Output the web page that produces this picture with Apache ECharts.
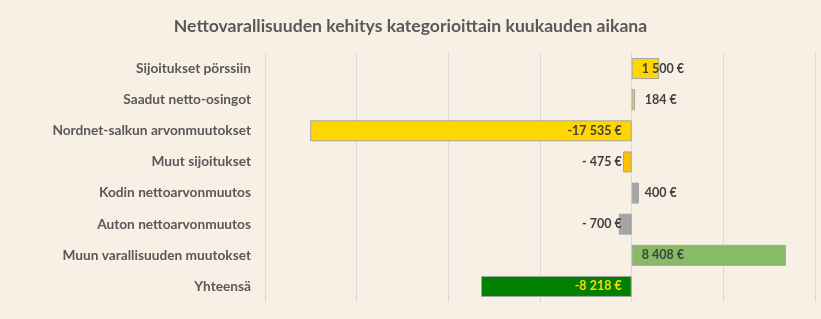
<!DOCTYPE html>
<html><head><meta charset="utf-8">
<script src="https://cdn.jsdelivr.net/npm/echarts@6/dist/echarts.min.js"></script>
<style>html,body{margin:0;padding:0;background:#F8F0E5;}#c{width:821px;height:319px;}</style>
</head><body><div id="c"></div>
<script>
const categories = ["Sijoitukset pörssiin","Saadut netto-osingot","Nordnet-salkun arvonmuutokset","Muut sijoitukset","Kodin nettoarvonmuutos","Auton nettoarvonmuutos","Muun varallisuuden muutokset","Yhteensä"];
const values = [1500, 184, -17535, -475, 400, -700, 8408, -8218];
const barColors = ["#FFD700","#FFD700","#FFD700","#FFC000","#A5A5A5","#A5A5A5","#87BB65","#008000"];
const labelColors = ["#404040","#404040","#404040","#404040","#404040","#404040","#404040","#FFD700"];

function fmt(v){
  const a = Math.abs(v);
  let s;
  if (a >= 1000) { s = Math.floor(a/1000) + ' ' + String(a%1000).padStart(3,'0'); }
  else { s = ' ' + a; }
  return (v < 0 ? '-' : '') + s + ' €';
}

const chart = echarts.init(document.getElementById('c'));
chart.setOption({
  backgroundColor: '#F8F0E5',
  animation: false,
  title: {
    text: 'Nettovarallisuuden kehitys kategorioittain kuukauden aikana',
    left: 'center', top: 12,
    textStyle: {fontFamily: 'Lato', fontWeight: 'bold', fontSize: 17.6, color: '#595959'}
  },
  grid: {left: 265, right: 6, top: 53, bottom: 17, containLabel: false},
  xAxis: {
    type: 'value', min: -20000, max: 10000, interval: 5000,
    axisLabel: {show: false}, axisLine: {show: false}, axisTick: {show: false},
    splitLine: {lineStyle: {color: '#D9D9D9', width: 1}}
  },
  yAxis: {
    type: 'category', data: categories, inverse: true,
    axisLine: {show: false}, axisTick: {show: false},
    axisLabel: {margin: 14, fontFamily: 'Lato', fontWeight: 'bold', fontSize: 13.7, color: '#595959'}
  },
  series: [{
    type: 'bar', barWidth: 21,
    data: values.map((v,i)=>({
      value: v,
      itemStyle: {color: barColors[i], borderColor: '#A5A5A5', borderWidth: 1},
      label: {
        show: true,
        position: v >= 0 ? 'insideLeft' : 'insideRight',
        distance: 10,
        formatter: ()=>fmt(v),
        color: labelColors[i],
        fontFamily: 'Lato', fontWeight: 'bold', fontSize: 12.5
      }
    }))
  }]
});
</script></body></html>
